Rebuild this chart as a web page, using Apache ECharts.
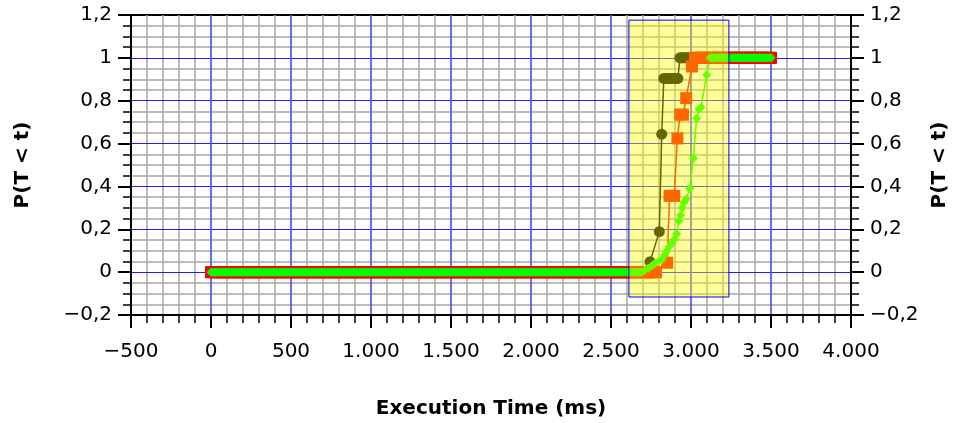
<!DOCTYPE html>
<html>
<head>
<meta charset="utf-8">
<script src="https://cdn.jsdelivr.net/npm/echarts@6/dist/echarts.min.js"></script>
<style>html,body{margin:0;padding:0;background:#fff}#c{width:954px;height:423px}</style>
</head>
<body>
<div id="c"></div>
<script>
// ---- data ----
const X_MIN = -500, X_MAX = 4000, X_STEP = 500, X_MINOR = 100;
const Y_MIN = -0.2, Y_MAX = 1.2, Y_STEP = 0.2;
const xTickLabels = ['−500', '0', '500', '1.000', '1.500', '2.000', '2.500', '3.000', '3.500', '4.000'];
const yTickLabels = ['−0,2', '0', '0,2', '0,4', '0,6', '0,8', '1', '1,2'];

const SAMPLE_MS = 10; // spacing of the dense samples on the flat parts

// series 1 (black circles)
const blackZero = [0, 2720];
const blackRise = [[2744, 0.049], [2802, 0.189], [2817, 0.644], [2830, 0.904], [2845, 0.904], [2860, 0.904],
                   [2875, 0.904], [2890, 0.904], [2905, 0.904], [2918, 0.904]];
const blackOne = [2931, 3500];

// series 2 (red squares)
const redZero = [0, 2781];
const redRise = [[2851, 0.044], [2866, 0.356], [2895, 0.356], [2915, 0.624], [2932, 0.735], [2950, 0.735],
                 [2970, 0.812], [3006, 0.96]];
const redOne = [3025, 3500];

// series 3 (green diamonds)
const greenZero = [0, 2690];
const greenRise = [[2710, 0.008], [2733, 0.018], [2755, 0.03], [2775, 0.041], [2795, 0.05], [2817, 0.058],
                   [2835, 0.08], [2848, 0.098], [2865, 0.12], [2879, 0.134], [2895, 0.152], [2910, 0.178],
                   [2925, 0.24], [2935, 0.265], [2945, 0.3], [2955, 0.325], [2970, 0.34], [2992, 0.39],
                   [3015, 0.531], [3035, 0.718], [3050, 0.76], [3062, 0.77], [3098, 0.92]];
const greenOne = [3119, 3500];

// highlighted region
const boxX = [2612, 3237];
const boxY = [-0.116, 1.176];

// ---- build point lists ----
function run(range, value) {
  const pts = [];
  for (let t = range[0]; t <= range[1]; t += SAMPLE_MS) pts.push([t, value]);
  if (pts[pts.length - 1][0] !== range[1]) pts.push([range[1], value]);
  return pts;
}
function build(zero, rise, one) {
  return run(zero, 0).concat(rise, run(one, 1));
}
const blackData = build(blackZero, blackRise, blackOne);
const redData = build(redZero, redRise, redOne);
const greenData = build(greenZero, greenRise, greenOne);

const FONT = 'DejaVu Sans';
const nameStyle = { fontFamily: FONT, fontWeight: 'bold', fontSize: 20, color: '#000' };
const H_MAJOR_GRID = { color: '#1f1fff', width: 1 };
const V_MAJOR_GRID = { color: '#5050ff', width: 1.5 };
const MINOR_GRID = { color: '#a8a8a8', width: 1.5 };

function yAxis(pos, gap) {
  const left = pos === 'left';
  return {
    type: 'value', min: Y_MIN, max: Y_MAX, interval: Y_STEP, position: pos, z: 1,
    name: 'P(T < t)', nameLocation: 'middle', nameRotate: 90, nameGap: gap, nameTextStyle: nameStyle,
    axisLine: { show: true, onZero: false, lineStyle: { color: '#000', width: 2 } },
    axisTick: { show: true, length: 13, lineStyle: { color: '#000', width: 2 } },
    minorTick: { show: true, splitNumber: 4, length: 8, lineStyle: { color: '#000', width: 1.5 } },
    axisLabel: {
      show: true, margin: 19, fontFamily: FONT, fontSize: 20, color: '#000',
      showMinLabel: true, showMaxLabel: true, hideOverlap: false,
      formatter: v => yTickLabels[Math.round((v - Y_MIN) / Y_STEP)]
    },
    splitLine: { show: left, showMinLine: false, showMaxLine: false, lineStyle: H_MAJOR_GRID },
    minorSplitLine: { show: left, lineStyle: MINOR_GRID }
  };
}

function lineSeries(name, data, color, symbol, size) {
  return {
    type: 'line', name: name, data: data, symbol: symbol, symbolSize: size,
    showAllSymbol: true, sampling: null, silent: true, animation: false,
    lineStyle: { color: color, width: 1.5 },
    itemStyle: { color: color, borderWidth: 0 },
    emphasis: { disabled: true }
  };
}

const chart = echarts.init(document.getElementById('c'), null, { renderer: 'canvas' });
const green = lineSeries('green', greenData, '#00ff00', 'diamond', 9);
green.markArea = {
  silent: true, z: 10,
  itemStyle: { color: 'rgba(255,255,0,0.4)', borderColor: '#0000ff', borderWidth: 1 },
  data: [[{ xAxis: boxX[0], yAxis: boxY[1] }, { xAxis: boxX[1], yAxis: boxY[0] }]]
};

chart.setOption({
  animation: false,
  backgroundColor: '#fff',
  grid: { left: 131, right: 103, top: 15, bottom: 108, containLabel: false, outerBoundsMode: 'none',
          show: true, borderColor: '#000', borderWidth: 2, backgroundColor: 'transparent' },
  xAxis: [{
    type: 'value', min: X_MIN, max: X_MAX, interval: X_STEP, position: 'bottom', z: 2,
    name: 'Execution Time (ms)', nameLocation: 'middle', nameGap: 84, nameTextStyle: nameStyle,
    axisLine: { show: true, onZero: false, lineStyle: { color: '#000', width: 2 } },
    axisTick: { show: true, length: 13, lineStyle: { color: '#000', width: 2 } },
    minorTick: { show: true, splitNumber: 5, length: 8, lineStyle: { color: '#000', width: 1.5 } },
    axisLabel: {
      show: true, margin: 27, fontFamily: FONT, fontSize: 20, color: '#000',
      showMinLabel: true, showMaxLabel: true, hideOverlap: false,
      formatter: v => xTickLabels[Math.round((v - X_MIN) / X_STEP)]
    },
    splitLine: { show: true, showMinLine: false, showMaxLine: false, lineStyle: V_MAJOR_GRID },
    minorSplitLine: { show: false }
  }, {
    // minor vertical grid only
    type: 'value', min: X_MIN, max: X_MAX, interval: X_MINOR, position: 'bottom', z: 0,
    axisLine: { show: false }, axisTick: { show: false }, axisLabel: { show: false },
    splitLine: { show: true, showMinLine: false, showMaxLine: false, lineStyle: MINOR_GRID }
  }],
  yAxis: [yAxis('left', 98), yAxis('right', 76)],
  series: [
    lineSeries('black', blackData, '#000000', 'circle', 11),
    lineSeries('red', redData, '#ff0000', 'rect', 12),
    green
  ]
});
</script>
</body>
</html>
